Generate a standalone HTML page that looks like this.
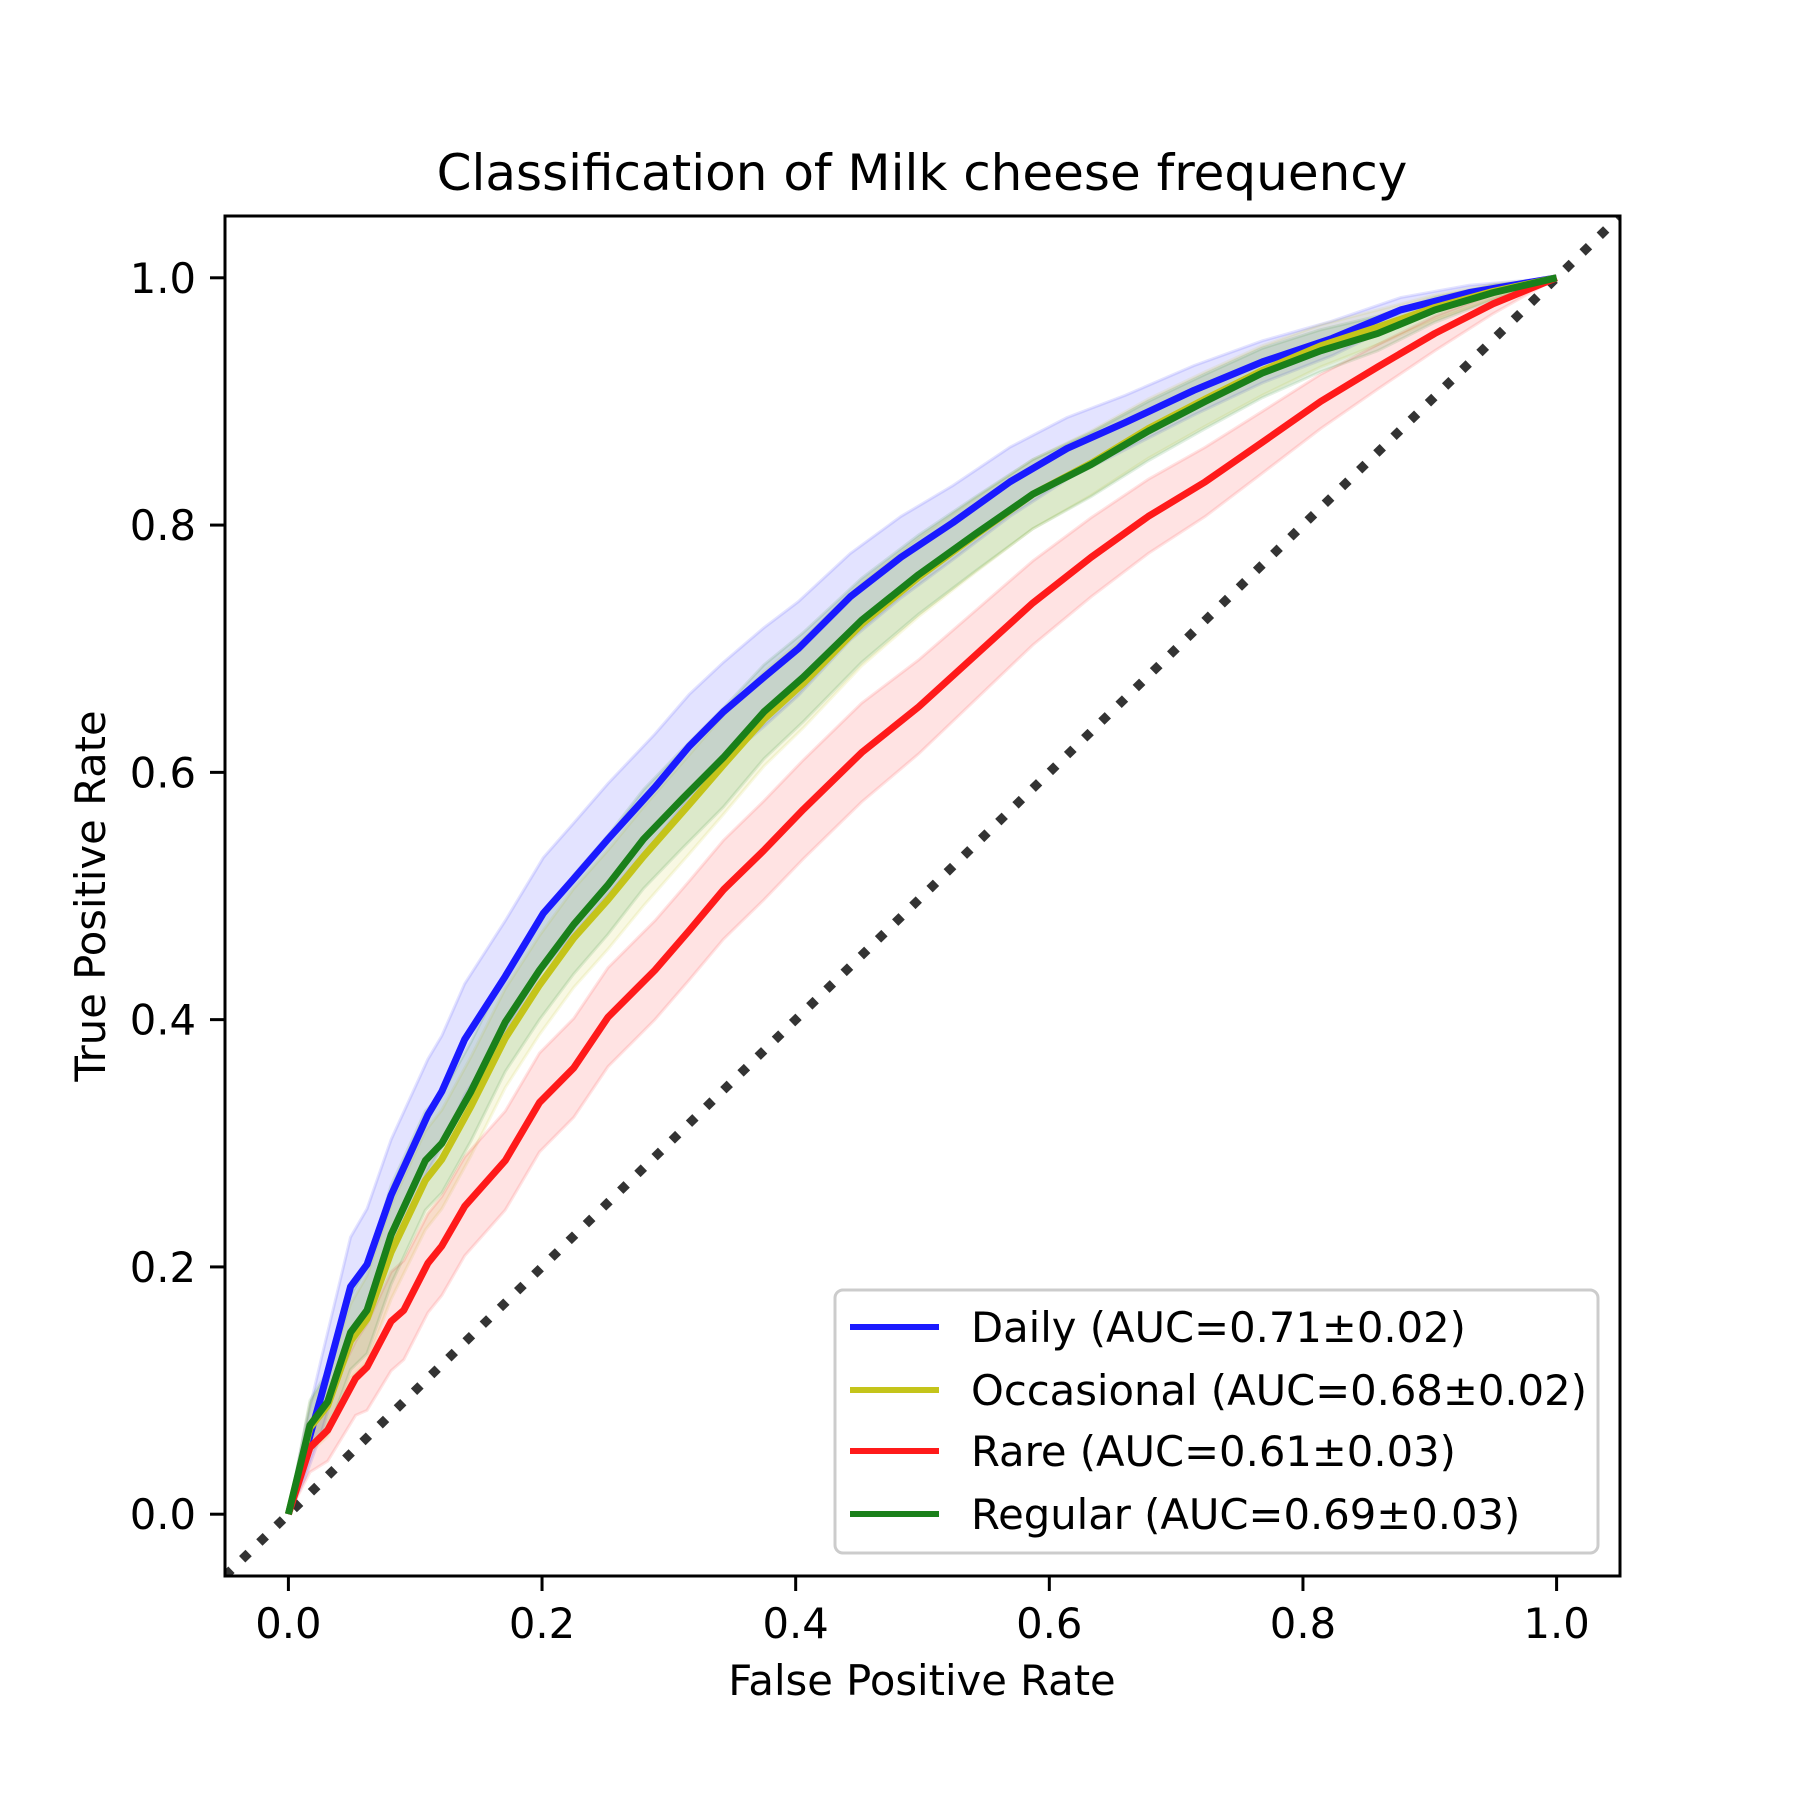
<!DOCTYPE html>
<html><head><meta charset="utf-8"><style>
html,body{margin:0;padding:0;background:#fff}
svg{display:block}
text{font-family:"DejaVu Sans","Liberation Sans",sans-serif;fill:#000}
</style></head><body>
<svg id="chart" width="1800" height="1800" viewBox="0 0 1800 1800" xmlns="http://www.w3.org/2000/svg">
<rect width="1800" height="1800" fill="#fff"/>
<defs><clipPath id="clip"><rect x="225" y="216" width="1395" height="1360"/></clipPath></defs>
<text x="922" y="190" font-size="50" text-anchor="middle">Classification of Milk cheese frequency</text>
<g id="bands" clip-path="url(#clip)"></g>
<g id="lines" clip-path="url(#clip)"></g>
<rect x="225" y="216" width="1395" height="1360" fill="none" stroke="#000" stroke-width="3"/>
<g id="xticks"></g><g id="yticks"></g>
<text x="922" y="1695" font-size="41.7" text-anchor="middle">False Positive Rate</text>
<text transform="translate(105,896) rotate(-90)" font-size="41.7" text-anchor="middle">True Positive Rate</text>
<g id="legend"></g>
</svg>
<script>
const xTicks=[0,0.2,0.4,0.6,0.8,1.0];
const yTicks=[0,0.2,0.4,0.6,0.8,1.0];
const tickLabels=["0.0","0.2","0.4","0.6","0.8","1.0"];
const seriesNames=["Daily (AUC=0.71±0.02)","Occasional (AUC=0.68±0.02)","Rare (AUC=0.61±0.03)","Regular (AUC=0.69±0.03)"];
const dailyX=[0,.013,.026,.049,.062,.081,.110,.121,.139,.171,.201,.225,.252,.289,.316,.343,.375,.402,.443,.483,.524,.569,.614,.660,.714,.768,.823,.877,.931,1];
const dailyY=[0,.049,.096,.184,.202,.258,.323,.342,.384,.435,.486,.514,.546,.588,.621,.649,.677,.700,.742,.774,.802,.835,.862,.883,.909,.932,.951,.974,.988,1];
const dailyBand=[0,.02,.03,.04,.045,.045,.045,.045,.045,.045,.045,.045,.045,.043,.042,.04,.04,.038,.035,.033,.03,.028,.025,.022,.02,.017,.014,.01,.006,0];
const regularX=[0,.017,.031,.049,.062,.081,.108,.121,.144,.171,.198,.225,.252,.280,.311,.343,.375,.406,.452,.497,.542,.587,.633,.678,.723,.768,.814,.859,.904,.950,1];
const regularY=[0,.072,.091,.147,.165,.226,.286,.300,.342,.398,.440,.477,.509,.546,.579,.612,.649,.677,.723,.760,.793,.825,.849,.876,.900,.923,.941,.955,.974,.988,1];
const regularBand=[0,.02,.025,.03,.035,.04,.04,.04,.04,.04,.04,.04,.04,.04,.04,.04,.038,.036,.034,.032,.03,.028,.026,.024,.022,.02,.017,.014,.01,.006,0];
const occasionalX=[0,.017,.031,.049,.062,.081,.108,.121,.144,.171,.198,.225,.252,.280,.316,.343,.375,.406,.452,.497,.542,.587,.633,.678,.723,.768,.814,.859,.904,.950,1];
const occasionalY=[0,.07,.088,.14,.158,.212,.27,.287,.33,.385,.428,.466,.497,.532,.574,.606,.643,.672,.720,.758,.792,.825,.850,.878,.902,.925,.945,.960,.976,.989,1];
const occasionalBand=[0,.02,.025,.03,.035,.038,.04,.04,.04,.04,.04,.04,.04,.04,.04,.04,.038,.036,.034,.032,.03,.028,.026,.024,.022,.02,.017,.014,.01,.006,0];
const rareX=[0,.017,.031,.053,.062,.081,.091,.110,.121,.139,.171,.198,.225,.252,.289,.316,.343,.375,.406,.452,.497,.542,.587,.633,.678,.723,.768,.814,.859,.904,.950,1];
const rareY=[0,.054,.068,.110,.119,.156,.165,.203,.217,.249,.286,.333,.361,.402,.440,.472,.505,.537,.570,.616,.653,.695,.737,.774,.807,.835,.867,.900,.928,.955,.979,1];
const rareBand=[0,.02,.025,.03,.035,.04,.04,.04,.04,.04,.04,.04,.04,.04,.04,.04,.04,.04,.04,.04,.038,.036,.034,.032,.03,.028,.025,.022,.018,.014,.008,0];

const NS="http://www.w3.org/2000/svg";
const X=v=>288.4+v*1268.2, Y=v=>1514.2-v*1236.4;
function mk(tag,attrs,parent){const e=document.createElementNS(NS,tag);for(const k in attrs)e.setAttribute(k,attrs[k]);parent.appendChild(e);return e;}
const bands=document.getElementById('bands'),lines=document.getElementById('lines');
const series=[
 {xs:dailyX,ys:dailyY,bw:dailyBand,col:"#1a1aff",name:"daily"},
 {xs:occasionalX,ys:occasionalY,bw:occasionalBand,col:"#c4c41a",name:"occasional"},
 {xs:rareX,ys:rareY,bw:rareBand,col:"#ff1a1a",name:"rare"},
 {xs:regularX,ys:regularY,bw:regularBand,col:"#1a801a",name:"regular"}];
series.forEach(s=>{
  const up=s.xs.map((x,i)=>X(x)+","+Y(Math.min(1,s.ys[i]+s.bw[i])));
  const lo=s.xs.map((x,i)=>X(x)+","+Y(Math.max(0,s.ys[i]-s.bw[i]))).reverse();
  const b=mk('polygon',{points:up.concat(lo).join(" "),fill:s.col,'fill-opacity':0.12,stroke:s.col,'stroke-opacity':0.12,'stroke-width':3},bands);
  
  
});
const diag=mk('line',{x1:X(-0.05),y1:Y(-0.05),x2:X(1.05),y2:Y(1.05),stroke:"#333",'stroke-width':9,'stroke-dasharray':"9 15"},lines);


series.forEach(s=>{
  const p=mk('polyline',{points:s.xs.map((x,i)=>X(x)+","+Y(s.ys[i])).join(" "),fill:"none",stroke:s.col,'stroke-width':7,'stroke-linejoin':'round'},lines);
  
  
});
const xt=document.getElementById('xticks'),yt=document.getElementById('yticks');
xTicks.forEach((v,i)=>{
  const l=mk('line',{x1:X(v),x2:X(v),y1:1576,y2:1591,stroke:"#000",'stroke-width':3},xt);
  
  
  const t=mk('text',{x:X(v),y:1638,'font-size':41.7,'text-anchor':'middle'},xt);t.textContent=tickLabels[i];
  
  
});
yTicks.forEach((v,i)=>{
  const l=mk('line',{x1:210,x2:225,y1:Y(v),y2:Y(v),stroke:"#000",'stroke-width':3},yt);
  
  
  const t=mk('text',{x:196,y:Y(v)+15,'font-size':41.7,'text-anchor':'end'},yt);t.textContent=tickLabels[i];
  
  
});
const lg=document.getElementById('legend');
const fr=mk('rect',{x:835,y:1290,width:763,height:263,rx:8,fill:"#fff",'fill-opacity':0.8,stroke:"#ccc",'stroke-width':3},lg);


const rowY=[1327,1390,1451,1514];
series.forEach((s,i)=>{
  const l=mk('line',{x1:850,x2:939,y1:rowY[i],y2:rowY[i],stroke:s.col,'stroke-width':6},lg);
  
  
  const t=mk('text',{x:971,y:rowY[i]+15,'font-size':41.7},lg);t.textContent=seriesNames[i];
  
  
});
</script>
</body></html>
